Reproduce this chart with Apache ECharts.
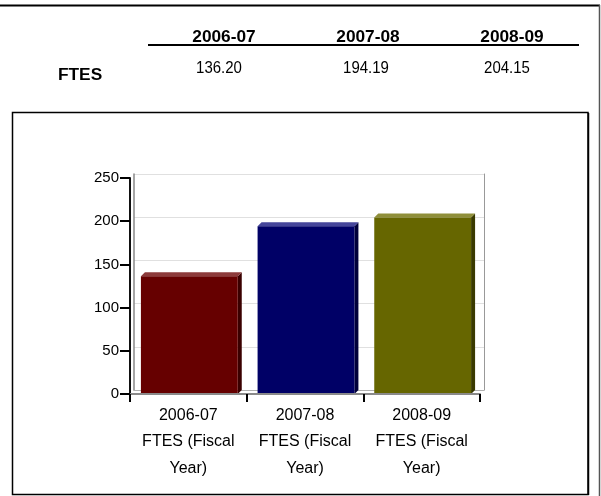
<!DOCTYPE html>
<html>
<head>
<meta charset="utf-8">
<style>
html,body{margin:0;padding:0;background:#fff;}
#chart{width:601px;height:496px;}
</style>
<script src="https://cdn.jsdelivr.net/npm/echarts@6/dist/echarts.min.js"></script>
</head>
<body>
<div id="chart"></div>
<script>
const years = ['2006-07', '2007-08', '2008-09'];
const rowLabel = 'FTES';
const ftesValues = [136.20, 194.19, 204.15];
const categories = ['2006-07\nFTES (Fiscal\nYear)', '2007-08\nFTES (Fiscal\nYear)', '2008-09\nFTES (Fiscal\nYear)'];
const yTicks = [0, 50, 100, 150, 200, 250];

const barColors = [
  {front: '#660000', top: '#8c3a3a', side: '#3a0000'},
  {front: '#000066', top: '#45459a', side: '#00003a'},
  {front: '#666600', top: '#8f8f3a', side: '#3a3a00'}
];

const FONT = '"Liberation Sans", Arial, sans-serif';
const chart = echarts.init(document.getElementById('chart'), null, {renderer: 'canvas'});

const headerX = [224, 368, 512];
const valueX = [219, 366, 507];
const graphics = [
  {type: 'line', shape: {x1: 0, y1: 5.5, x2: 600, y2: 5.5}, style: {stroke: '#000', lineWidth: 2}},
  {type: 'line', shape: {x1: 599.5, y1: 5, x2: 599.5, y2: 496}, style: {stroke: '#555', lineWidth: 1.5}},
  {type: 'rect', shape: {x: 12.5, y: 112.5, width: 575.5, height: 382}, style: {fill: null, stroke: '#000', lineWidth: 1.5}},
  {type: 'line', shape: {x1: 588.5, y1: 113, x2: 588.5, y2: 495}, style: {stroke: '#000', lineWidth: 1.5}},
  {type: 'line', shape: {x1: 148, y1: 45, x2: 579, y2: 45}, style: {stroke: '#000', lineWidth: 2}},
  {type: 'text', x: 58, y: 76, scaleX: 1.08, style: {text: rowLabel, font: 'bold 16px ' + FONT, fill: '#000', textVerticalAlign: 'middle', textAlign: 'left'}}
];
years.forEach((y, i) => {
  graphics.push({type: 'text', x: headerX[i], y: 38, scaleX: 1.08, style: {text: y, font: 'bold 16px ' + FONT, fill: '#000', textAlign: 'center', textVerticalAlign: 'middle'}});
  graphics.push({type: 'text', x: valueX[i], y: 68.5, scaleY: 1.1, style: {text: ftesValues[i].toFixed(2), font: '15px ' + FONT, fill: '#000', textAlign: 'center', textVerticalAlign: 'middle'}});
});

const D = 4;
function renderBar(params, api) {
  const idx = params.dataIndex;
  const v = api.value(1);
  const top = api.coord([api.value(0), v]);
  const base = api.coord([api.value(0), 0]);
  const band = api.size([1, 0])[0];
  const bw = band * 0.83;
  const left = top[0] - bw / 2 + 1;
  const right = left + bw;
  const c = barColors[idx];
  return {
    type: 'group',
    children: [
      {type: 'polygon', shape: {points: [[right, top[1]], [right + D, top[1] - D], [right + D, base[1] - D], [right, base[1]]]}, style: {fill: c.side}},
      {type: 'polygon', shape: {points: [[left, top[1]], [left + D, top[1] - D], [right + D, top[1] - D], [right, top[1]]]}, style: {fill: c.top}},
      {type: 'rect', shape: {x: left, y: top[1], width: bw, height: base[1] - top[1]}, style: {fill: c.front}}
    ]
  };
}

const yMin = yTicks[0], yMax = yTicks[yTicks.length - 1], yStep = yTicks[1] - yTicks[0];

chart.setOption({
  animation: false,
  backgroundColor: '#fff',
  textStyle: {fontFamily: FONT},
  grid: [
    {left: 130, right: 121, top: 178, bottom: 102, containLabel: false},
    {left: 134, right: 117, top: 174, bottom: 106, containLabel: false}
  ],
  xAxis: [
    {
      type: 'category', gridIndex: 0, data: categories, z: 5,
      axisLine: {lineStyle: {color: '#8a8a8a', width: 2}},
      axisTick: {show: true, length: 8, lineStyle: {color: '#000', width: 2}},
      axisLabel: {color: '#000', fontSize: 16, lineHeight: 26.5, margin: 8, fontFamily: FONT, interval: 0}
    },
    {
      type: 'category', gridIndex: 1, data: categories,
      axisLine: {lineStyle: {color: '#b0b0b0', width: 1}},
      axisTick: {show: false}, axisLabel: {show: false}
    }
  ],
  yAxis: [
    {
      type: 'value', gridIndex: 0, min: yMin, max: yMax, interval: yStep, z: 5,
      axisLine: {show: true, lineStyle: {color: '#111', width: 2}},
      axisTick: {show: true, length: 10, lineStyle: {color: '#000', width: 2}},
      axisLabel: {color: '#000', fontSize: 15, margin: 11, fontFamily: FONT},
      splitLine: {show: false}
    },
    {
      type: 'value', gridIndex: 1, min: yMin, max: yMax, interval: yStep,
      axisLine: {show: true, lineStyle: {color: '#888', width: 1.5}},
      axisTick: {show: false}, axisLabel: {show: false},
      splitLine: {show: true, lineStyle: {color: '#e0e0e0', width: 1}}
    },
    {
      type: 'value', gridIndex: 1, position: 'right', min: yMin, max: yMax, interval: yStep,
      axisLine: {show: true, lineStyle: {color: '#999', width: 1}},
      axisTick: {show: false}, axisLabel: {show: false}, splitLine: {show: false}
    }
  ],
  series: [{
    type: 'custom',
    xAxisIndex: 0, yAxisIndex: 0, z: 3,
    renderItem: renderBar,
    data: ftesValues.map((v, i) => [i, v]),
    encode: {x: 0, y: 1}
  }],
  graphic: graphics
});
</script>
</body>
</html>
